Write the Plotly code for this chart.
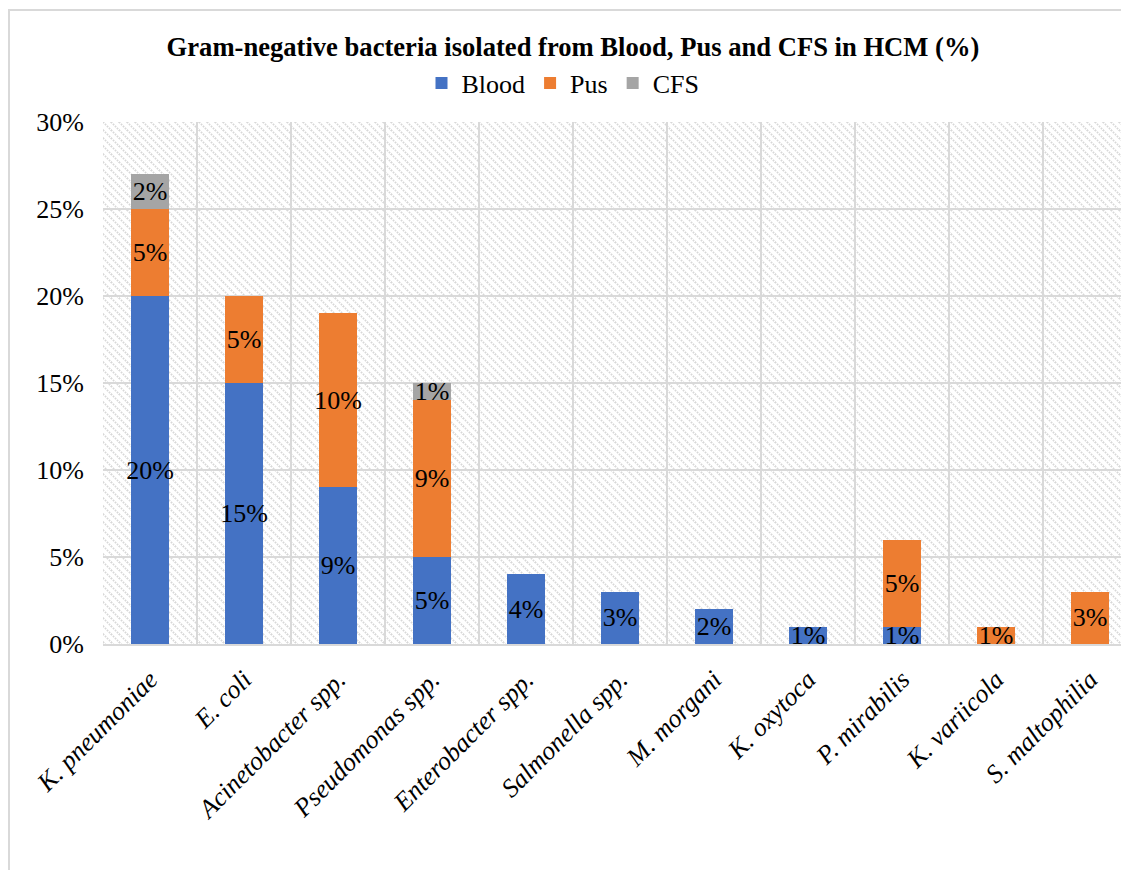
import base64
import plotly.graph_objects as go

categories = ["K. pneumoniae", "E. coli", "Acinetobacter spp.", "Pseudomonas spp.",
              "Enterobacter spp.", "Salmonella spp.", "M. morgani", "K. oxytoca",
              "P. mirabilis", "K. variicola", "S. maltophilia"]
blood = [20, 15, 9, 5, 4, 3, 2, 1, 1, 0, 0]
pus = [5, 5, 10, 9, 0, 0, 0, 0, 5, 1, 3]
cfs = [2, 0, 0, 1, 0, 0, 0, 0, 0, 0, 0]
y_ticks = [0, 5, 10, 15, 20, 25, 30]
y_tick_labels = [f"{v}%" for v in y_ticks]

W, H = 1129, 870
ML, MT, MB = 95, 114, 234
PW, PH = W - ML, H - MT - MB

FONT = "Liberation Serif"
colors = {"Blood": "#4472C4", "Pus": "#ED7D31", "CFS": "#A5A5A5"}

fig = go.Figure()
for name, vals in [("Blood", blood), ("Pus", pus), ("CFS", cfs)]:
    fig.add_trace(go.Bar(
        name=name, x=categories, y=vals,
        marker=dict(color=colors[name], line=dict(width=0)),
        text=[f"{v}%" if v else "" for v in vals],
        textposition="inside", insidetextanchor="middle",
        constraintext="none", textangle=0,
        textfont=dict(family=FONT, size=26, color="black"),
        width=0.4, hoverinfo="x+y+name",
    ))

# hatched (dotted diagonal) plot background as an SVG image beneath gridlines
svg = f'''<svg xmlns="http://www.w3.org/2000/svg" width="{PW}" height="{PH}" viewBox="0 0 {PW} {PH}" preserveAspectRatio="none">
<defs><pattern id="h" patternUnits="userSpaceOnUse" width="8" height="8">
<line x1="0" y1="0" x2="8" y2="8" stroke="#d8d8d8" stroke-width="1.8" stroke-dasharray="1.6,1.2"/>
<line x1="-1" y1="7" x2="1" y2="9" stroke="#d8d8d8" stroke-width="1.8"/>
<line x1="7" y1="-1" x2="9" y2="1" stroke="#d8d8d8" stroke-width="1.8"/>
</pattern></defs>
<rect width="{PW}" height="{PH}" fill="white"/>
<rect width="{PW}" height="{PH}" fill="url(#h)"/>
</svg>'''
src = "data:image/svg+xml;base64," + base64.b64encode(svg.encode()).decode()

fig.update_layout(
    width=W, height=H, barmode="stack",
    margin=dict(l=ML, r=0, t=MT, b=MB, pad=0),
    paper_bgcolor="white", plot_bgcolor="white",
    font=dict(family=FONT, size=26, color="black"),
    title=dict(text="<b>Gram-negative bacteria isolated from Blood, Pus and CFS in HCM (%)</b>",
               font=dict(family=FONT, size=26.6, color="black"),
               x=565 / W, xref="container", xanchor="center",
               y=1 - 39 / H, yref="container", yanchor="middle"),
    legend=dict(orientation="h", x=(555 - ML) / PW, xanchor="center",
                y=1 + 39 / PH, yanchor="middle",
                font=dict(family=FONT, size=26, color="black"),
                traceorder="normal", itemwidth=30, bgcolor="rgba(0,0,0,0)"),
    images=[dict(source=src, xref="paper", yref="paper", x=0, y=1,
                 sizex=1, sizey=1, sizing="stretch", xanchor="left",
                 yanchor="top", layer="below")],
    shapes=[dict(type="rect", xref="paper", yref="paper",
                 x0=(1 - ML) / PW, x1=1.2, y0=-0.6, y1=(H - MB - 2) / PH,
                 line=dict(color="#d9d9d9", width=2), fillcolor="rgba(0,0,0,0)",
                 layer="below")],
    xaxis=dict(range=[-0.5, 10.5], tickson="boundaries",
               showgrid=True, gridcolor="#d9d9d9", gridwidth=2,
               showline=True, linecolor="#d9d9d9", linewidth=2,
               ticks="", tickangle=-45, ticklabelstandoff=8,
               tickfont=dict(family=FONT, size=26, style="italic", color="black")),
    yaxis=dict(range=[0, 30], tickvals=y_ticks, ticktext=y_tick_labels,
               showgrid=True, gridcolor="#d9d9d9", gridwidth=2,
               zeroline=False, showline=False, ticks="", ticklabelstandoff=18,
               tickfont=dict(family=FONT, size=26, color="black")),
)
fig.write_html("out.html")
